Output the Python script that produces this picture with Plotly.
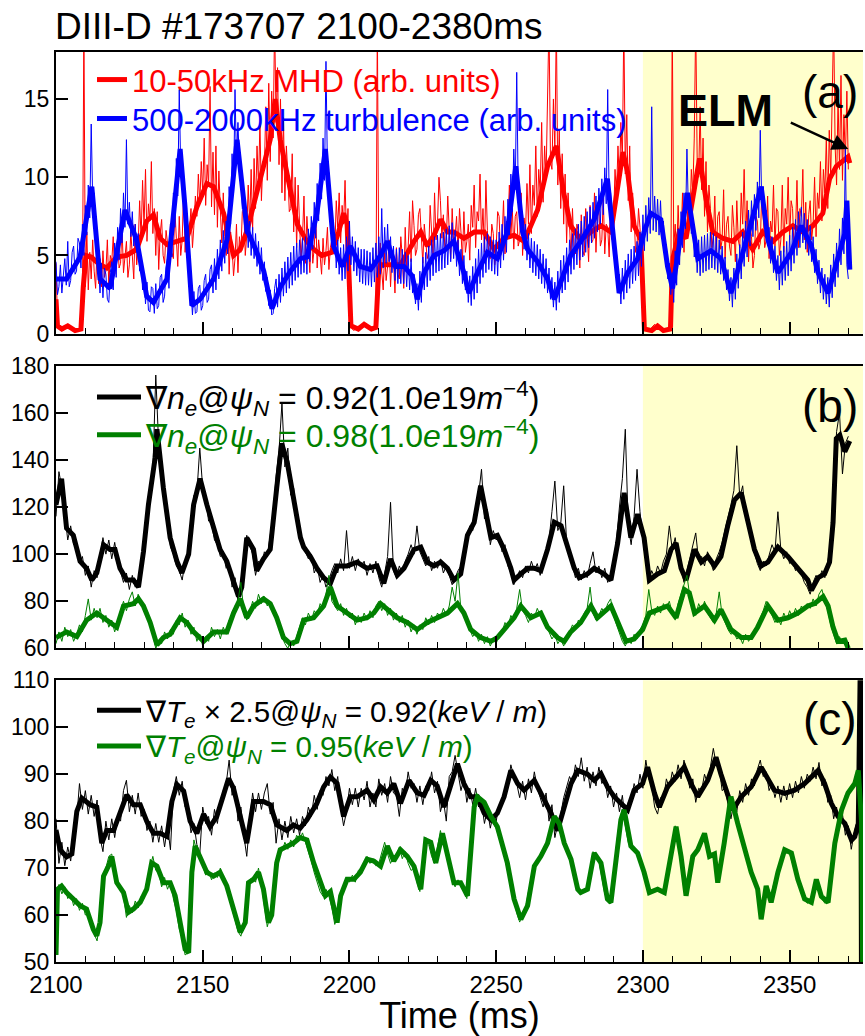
import numpy as np
import plotly.graph_objects as go

T0 = 2100.0
SHADE_START = 2300.0
X_RANGE = [2100, 2375]

# ---------------- panel (a) ----------------
# thin traces sampled every 0.5 ms from 2100
mhd_thin = [
4.5,0.8, 0.4,0.3, 0.3,0.2, 0.4,0.5, 0.6,0.5, 0.4,0.3, 0.2,0.2, 0.3,0.2, 0.3,0.4, 1.5,20,
3.0,6.5, 2.8,5.2, 3.5,6.0, 4.0,2.9, 5.5,3.2, 4.8,3.0, 5.3,3.6, 4.0,6.0, 3.1,5.0, 4.6,6.2,
3.8,5.4, 6.0,4.2, 4.5,6.8, 3.9,5.0, 5.9,3.6, 4.4,6.5, 5.1,3.5, 7.0,4.4, 5.6,8.5, 6.1,9.8,
6.8,10.5, 5.9,8.3, 7.2,11.0, 6.4,8.0, 5.0,7.8, 4.1,6.4, 7.3,5.0, 4.5,6.6, 5.8,3.9, 7.0,5.2,
4.8,8.0, 6.1,4.3, 7.5,5.0, 6.0,9.2, 5.2,7.1, 4.0,6.7, 8.0,5.5, 6.9,8.8, 7.5,10.2, 8.3,11.0,
9.0,12.5, 8.2,10.8, 9.5,15.8, 8.1,11.6, 7.6,12.0, 6.8,10.4, 7.9,5.8, 9.0,6.2, 5.0,7.6, 3.8,6.5,
5.6,3.7, 4.8,7.0, 3.9,6.2, 5.2,7.8, 8.0,5.0, 6.3,9.5, 7.0,10.5, 6.6,11.2, 8.0,12.0, 9.5,13.5,
8.5,11.0, 10.5,14.5, 9.8,16.0, 11.0,15.5, 12.5,20, 13.5,17.0, 10.8,15.0, 9.0,13.8, 8.5,12.0, 10.2,7.8,
8.0,11.5, 6.5,10.0, 5.5,9.5, 7.0,4.8, 6.2,8.8, 4.5,7.5, 5.8,3.9, 6.8,4.5, 5.5,7.8, 4.2,6.0,
5.0,3.8, 6.1,4.4, 5.3,6.8, 4.1,5.5, 6.0,7.2, 5.2,8.5, 6.8,9.0, 5.8,8.2, 7.0,9.8, 6.0,8.0,
2.0,0.6, 0.3,0.2, 0.3,0.4, 0.5,0.4, 0.5,0.6, 0.6,0.5, 0.4,0.3, 0.3,0.2, 0.3,0.3, 0.5,20,
3.5,5.8, 4.0,2.8, 5.2,3.4, 4.3,6.0, 3.0,5.0, 4.8,2.6, 5.5,3.8, 3.5,6.2, 4.9,2.9, 6.8,4.2,
5.5,7.8, 4.6,8.5, 6.9,5.0, 5.4,7.6, 8.0,5.8, 4.5,7.0, 6.0,4.8, 5.2,8.2, 6.5,4.9, 9.0,6.0,
7.0,10.0, 8.5,6.1, 7.6,5.5, 5.8,8.8, 6.6,4.8, 8.0,5.9, 6.2,7.5, 5.1,8.0, 6.5,4.6, 7.8,5.2,
5.9,7.0, 4.7,8.2, 6.8,9.5, 5.5,7.8, 7.2,10.2, 6.0,8.0, 5.2,9.8, 6.6,5.0, 4.8,7.0, 6.4,4.4,
5.5,7.8, 7.5,5.0, 6.0,8.5, 5.1,7.2, 7.0,9.5, 6.2,8.0, 5.4,7.5, 7.8,5.6, 6.0,9.0, 5.0,7.4,
6.5,9.6, 7.0,10.8, 6.4,9.5, 8.2,12.0, 7.5,10.5, 9.0,13.5, 8.4,12.0, 10.0,14.5, 20,11.0, 10.5,15.0,
11.8,20, 9.5,13.0, 8.0,11.5, 7.0,10.2, 5.8,9.0, 6.5,4.8, 8.0,5.5, 5.1,7.0, 6.5,4.2, 7.6,5.3,
5.0,8.0, 6.4,4.6, 8.2,5.8, 6.0,9.0, 5.2,7.5, 7.9,5.6, 6.0,8.8, 5.1,7.0, 6.8,4.9, 8.5,6.0,
7.2,10.5, 8.8,12.0, 9.5,13.5, 11.0,20, 10.2,14.0, 8.5,12.0, 6.5,9.0, 7.5,5.2, 5.6,8.0, 6.8,4.9,
1.5,0.5, 0.3,0.2, 0.2,0.3, 0.4,0.5, 0.6,0.5, 0.5,0.4, 0.3,0.2, 0.2,0.3, 0.3,0.3, 0.5,2.5,
20,5.5, 7.0,4.8, 8.2,5.6, 6.0,9.0, 5.2,7.8, 8.5,6.5, 7.0,10.5, 9.0,12.5, 20,11.0, 10.0,14.5,
9.2,12.5, 7.5,11.0, 6.5,9.5, 8.0,5.5, 6.2,8.8, 5.0,7.5, 7.8,5.4, 6.0,9.2, 4.8,7.0, 7.5,5.6,
5.0,8.2, 6.8,4.6, 8.5,6.0, 5.5,9.0, 7.0,10.5, 6.0,8.5, 4.6,7.0, 6.2,4.2, 5.0,7.5, 7.2,5.4,
5.8,9.0, 7.5,5.5, 6.0,8.8, 4.8,7.2, 6.5,9.5, 5.6,8.0, 7.8,5.0, 6.0,9.5, 5.2,8.0, 7.0,10.0,
6.0,8.5, 8.0,5.4, 6.5,9.8, 5.5,8.0, 7.5,10.5, 6.0,8.4, 5.2,7.6, 8.5,6.0, 7.0,10.0, 6.2,9.0,
8.0,11.0, 7.2,10.5, 9.0,12.5, 8.0,13.0, 10.0,14.5, 20,12.0, 9.5,15.0, 10.5,16.5, 9.8,14.0, 11.0,15.5,
10.5]

turb_thin = [
4.6,2.5, 3.0,4.4, 2.6,4.0, 4.8,3.1, 5.9,3.0, 3.4,5.2, 5.6,3.8, 4.0,6.1, 5.8,4.2, 7.0,5.0,
8.2,6.3, 9.5,7.4, 13.4,8.6, 9.0,6.5, 6.0,4.2, 2.6,4.5, 2.3,4.2, 3.8,2.2, 2.0,3.9, 4.6,2.8,
5.8,3.6, 6.8,4.7, 8.0,5.8, 9.0,6.8, 12.4,7.0, 8.4,6.2, 7.8,5.6, 7.0,5.2, 6.4,4.0, 5.0,2.8,
3.8,1.9, 3.3,1.5, 1.4,3.0, 2.9,1.3, 3.2,1.6, 1.8,3.6, 3.8,2.0, 2.4,4.2, 4.8,2.9, 7.0,4.9,
9.0,6.8, 11.2,8.8, 15.6,10.5, 11.0,8.5, 9.2,6.8, 5.6,3.4, 2.8,1.2, 2.7,1.3, 1.4,2.9, 3.1,1.5,
1.8,3.4, 3.8,2.0, 2.2,4.1, 4.4,2.6, 4.8,2.8, 5.4,3.5, 6.0,4.0, 6.6,4.5, 7.2,5.1, 9.4,7.0,
11.5,9.0, 15.6,11.0, 13.5,10.8, 10.2,8.0, 8.6,6.4, 7.6,5.5, 7.2,5.0, 6.8,4.8, 6.4,4.3, 5.9,3.8,
5.5,3.4, 4.6,2.7, 3.6,1.8, 2.8,1.2, 1.3,2.9, 3.5,1.7, 3.8,2.0, 4.2,2.4, 4.6,2.6, 4.9,2.9,
5.2,3.1, 5.6,3.4, 5.8,3.6, 6.0,3.8, 6.1,3.9, 6.2,3.8, 6.7,4.6, 7.5,5.4, 8.4,6.1, 9.6,7.2,
10.9,8.6, 12.5,9.8, 17.4,10.4, 10.3,7.8, 7.7,5.4, 6.4,4.2, 6.0,3.8, 5.5,3.4, 5.7,3.5, 6.2,4.0,
7.2,4.4, 6.2,4.0, 5.9,3.7, 5.5,3.3, 5.4,3.2, 5.4,3.1, 5.3,3.1, 5.2,3.0, 5.5,3.3, 5.8,3.6,
6.2,3.8, 8.0,4.2, 6.8,4.5, 7.0,4.6, 6.2,3.9, 5.6,3.4, 5.4,3.2, 5.5,3.2, 5.4,3.2, 5.2,3.0,
5.0,2.8, 4.8,2.6, 3.8,1.9, 3.2,1.5, 4.0,2.0, 4.9,2.8, 5.2,3.0, 5.6,3.4, 6.0,3.7, 6.2,3.9,
6.3,4.0, 6.4,4.1, 6.5,4.2, 6.7,4.4, 6.9,4.6, 7.1,4.8, 6.6,4.3, 6.0,3.7, 5.4,3.2, 5.0,2.8,
4.0,2.0, 3.7,1.8, 4.3,2.2, 4.8,2.6, 5.4,3.2, 5.8,3.6, 6.2,3.9, 6.4,4.1, 6.2,4.0, 6.0,3.8,
6.0,3.7, 6.5,4.2, 7.0,4.7, 7.5,5.2, 8.6,6.3, 10.2,7.8, 11.8,9.2, 16.7,9.3, 9.2,6.9, 7.6,5.4,
7.0,4.7, 6.4,4.2, 6.1,3.9, 5.9,3.7, 5.7,3.5, 5.4,3.2, 5.1,2.9, 4.8,2.6, 4.2,2.2, 3.6,1.7,
3.3,1.5, 4.0,2.0, 4.7,2.6, 5.0,2.8, 5.5,3.3, 6.0,3.8, 6.4,4.1, 6.7,4.4, 7.0,4.7, 7.2,4.9,
7.5,5.2, 7.8,5.5, 8.1,5.8, 8.4,6.1, 8.8,6.5, 9.3,7.0, 9.9,7.6, 10.6,8.3, 15.6,8.7, 9.0,6.7,
6.6,4.4, 5.1,3.0, 3.8,1.9, 4.2,2.2, 4.7,2.6, 5.1,2.9, 5.4,3.2, 5.6,3.4, 5.9,3.7, 6.5,4.3,
7.6,5.3, 8.2,5.9, 8.7,6.4, 14.5,6.6, 8.8,6.5, 8.6,6.3, 8.5,6.2, 7.2,4.9, 5.7,3.5, 4.5,2.5,
3.9,2.0, 5.3,3.1, 6.7,4.4, 7.8,5.5, 9.0,6.7, 11.8,7.9, 8.7,6.4, 7.2,4.9, 6.2,3.9, 6.0,3.7,
6.2,3.9, 6.3,4.0, 6.4,4.1, 6.5,4.2, 6.4,4.1, 6.2,3.9, 6.0,3.8, 5.6,3.4, 4.9,2.8, 4.1,2.1,
3.6,1.7, 4.2,2.2, 5.1,2.9, 5.7,3.5, 6.5,4.3, 7.2,4.9, 7.9,5.6, 8.5,6.2, 8.9,6.6, 9.7,7.4,
13.0,8.2, 9.4,7.1, 7.9,5.6, 6.8,4.5, 6.2,3.9, 5.6,3.4, 5.0,2.8, 5.3,3.1, 5.6,3.4, 5.9,3.7,
6.3,4.0, 6.8,4.5, 7.3,5.0, 7.8,5.5, 8.1,5.8, 7.7,5.4, 7.3,5.0, 6.9,4.6, 6.2,3.9, 5.4,3.2,
4.7,2.6, 4.2,2.2, 3.8,1.9, 3.6,1.7, 4.4,2.3, 5.1,3.0, 5.8,3.6, 6.7,4.4, 7.4,5.1, 11.8,4.4,
3.5]

mhd_smooth_t = [2100.0, 2100.5, 2102.0, 2104.0, 2106.5, 2108.5, 2109.3, 2110.2, 2112.0, 2115.0,
    2117.3, 2120.7, 2124.1, 2127.5, 2130.9, 2133.2, 2135.5, 2137.8, 2141.2, 2144.6,
    2148.0, 2151.4, 2153.7, 2157.1, 2160.5, 2162.8, 2165.1, 2167.3, 2170.7, 2173.0,
    2174.7, 2176.4, 2178.6, 2180.5, 2182.2, 2185.5, 2187.8, 2190.6, 2194.0, 2196.3,
    2198.0, 2199.2, 2200.0, 2200.5, 2203.0, 2205.0, 2207.5, 2209.0, 2209.9, 2210.6,
    2214.0, 2217.4, 2222.0, 2224.3, 2226.5, 2228.8, 2231.1, 2233.4, 2235.6, 2239.0,
    2242.5, 2245.9, 2249.3, 2252.7, 2256.1, 2259.5, 2264.1, 2267.5, 2270.5, 2273.0,
    2275.4, 2278.8, 2282.3, 2285.7, 2289.1, 2292.0, 2293.2, 2294.8, 2297.0, 2299.3,
    2300.0, 2300.5, 2303.0, 2305.0, 2307.0, 2309.4, 2309.8, 2310.3, 2312.4, 2314.7,
    2318.1, 2319.3, 2321.5, 2323.8, 2327.2, 2330.6, 2334.0, 2337.4, 2340.8, 2344.3,
    2347.7, 2351.1, 2354.5, 2357.9, 2361.3, 2363.6, 2365.9, 2368.2, 2369.9, 2370.5]
mhd_smooth_v = [2.2, 0.5, 0.3, 0.5, 0.2, 0.3, 3.0, 5.0, 4.9, 4.4,
    4.2, 4.9, 5.0, 5.4, 7.2, 7.6, 6.1, 5.7, 5.9, 6.1,
    8.1, 9.6, 9.4, 7.7, 5.0, 5.4, 6.6, 8.1, 10.7, 12.4,
    15.0, 12.4, 10.4, 8.8, 7.0, 5.9, 5.4, 5.0, 5.2, 6.5,
    7.7, 7.0, 3.0, 0.5, 0.3, 0.6, 0.3, 0.4, 3.8, 4.4,
    4.4, 4.4, 5.9, 6.5, 5.6, 6.3, 7.3, 6.5, 6.5, 6.1,
    6.5, 6.5, 5.4, 6.1, 6.3, 5.9, 7.9, 10.7, 12.0, 9.0,
    6.9, 6.0, 6.5, 6.9, 6.5, 9.9, 11.6, 10.3, 6.9, 6.0,
    2.0, 0.3, 0.2, 0.5, 0.2, 0.3, 3.0, 4.9, 6.5, 6.1,
    9.9, 11.2, 8.6, 6.5, 6.1, 5.9, 6.5, 5.4, 6.5, 5.9,
    6.5, 6.9, 6.5, 6.9, 7.7, 9.9, 10.7, 11.1, 11.3, 10.9]

turb_smooth_t = [2100.0, 2103.6, 2108.2, 2112.2, 2115.0, 2118.4, 2123.5, 2127.5, 2130.9, 2133.2,
    2137.8, 2142.3, 2144.0, 2146.3, 2149.1, 2153.7, 2158.3, 2161.7, 2165.1, 2168.0,
    2170.8, 2173.6, 2176.5, 2179.9, 2183.3, 2185.5, 2188.9, 2191.8, 2194.6, 2197.5,
    2200.3, 2203.7, 2207.2, 2210.6, 2212.9, 2215.7, 2218.6, 2221.4, 2223.1, 2225.4,
    2228.8, 2232.2, 2235.6, 2239.0, 2240.7, 2243.6, 2247.0, 2250.4, 2253.8, 2256.7,
    2259.0, 2260.7, 2264.1, 2267.5, 2269.8, 2273.2, 2275.4, 2278.8, 2283.4, 2287.9,
    2290.2, 2291.9, 2294.8, 2298.2, 2300.4, 2302.7, 2306.1, 2308.4, 2310.1, 2311.8,
    2315.2, 2318.7, 2323.2, 2326.6, 2330.0, 2333.5, 2338.0, 2340.3, 2342.6, 2346.0,
    2350.6, 2354.0, 2357.4, 2359.7, 2363.1, 2366.5, 2368.8, 2369.5, 2370.5]
turb_smooth_v = [3.5, 3.5, 4.9, 9.4, 3.5, 2.9, 7.9, 6.0, 2.4, 2.0,
    3.5, 11.8, 8.0, 1.8, 2.2, 3.5, 6.0, 12.4, 6.6, 5.4,
    4.0, 1.6, 3.0, 4.0, 4.8, 4.9, 7.7, 11.8, 5.6, 4.3,
    5.6, 4.3, 4.1, 5.0, 5.9, 4.3, 4.3, 3.7, 2.2, 3.9,
    5.0, 5.3, 5.9, 3.9, 2.6, 3.9, 5.2, 4.8, 6.5, 10.7,
    6.5, 5.4, 4.6, 3.5, 2.2, 3.9, 5.0, 5.9, 7.3, 9.9,
    5.6, 2.6, 3.9, 4.8, 6.5, 7.7, 7.3, 4.3, 2.9, 5.0,
    9.0, 4.8, 5.3, 4.8, 2.6, 4.8, 7.7, 9.4, 6.0, 3.9,
    5.2, 6.9, 5.6, 3.9, 2.6, 4.9, 6.4, 8.5, 4.1]

# ---------------- panel (b) ----------------
# thin traces sampled every 1 ms from 2100
ne92_thin = [116,135,128,118,106,112,104,103,96,99, 91,95,86,93,90,99,107,100,106,98,
    105,97,92,88,92,85,91,86,88,92, 108,115,127,135,176,146,137,120,113,103,
    100,95,93,89,97,98,110,125,126,145, 128,124,114,113,106,104,99,100,94,96,
    86,90,80,88,100,108,104,100,91,97, 95,101,99,108,117,133,144,164,137,145,
    125,128,115,108,104,101,98,100,92,95, 88,91,86,89,93,96,92,98,93,110,
    94,99,93,98,95,97,91,96,92,97, 90,86,92,99,122,93,90,95,92,97,
    100,104,100,112,101,98,95,99,93,97, 94,98,92,95,91,87,90,93,95,102,
    106,112,110,118,125,136,115,119,104,110, 106,108,101,104,95,92,87,90,93,90,
    95,92,97,93,96,91,98,101,106,118, 131,110,113,129,105,100,95,90,94,89,
    93,90,96,101,92,95,90,94,88,91, 97,106,120,132,153,112,104,116,136,118,
    106,98,88,93,90,95,92,97,100,112, 102,107,98,94,88,93,98,104,109,97,
    99,95,101,97,93,98,101,105,110,116, 121,127,146,124,129,116,112,105,100,96,
    93,97,95,100,104,101,118,102,98,101, 96,97,93,95,91,88,86,83,88,91,
    89,93,90,97,104,128,152,160,134,147, 150]
ne98_thin = [62,67,63,69,65,68,63,66,70,67, 74,81,72,77,73,77,71,74,69,72,
    67,71,75,80,76,81,84,78,83,79, 76,73,70,66,60,63,62,67,64,68,
    66,72,70,75,69,72,66,69,63,66, 61,65,63,69,65,68,64,69,66,72,
    74,78,80,88,76,72,75,80,77,83, 79,82,78,80,75,74,68,65,62,60,
    63,61,65,69,73,70,75,72,76,74, 79,77,83,91,80,78,76,79,74,77,
    73,75,70,74,71,75,72,76,73,78, 80,76,79,74,77,72,75,71,74,69,
    72,67,70,66,70,68,73,70,74,71, 75,73,77,74,78,86,80,92,76,74,
    71,68,65,67,63,66,62,65,61,64, 62,66,67,71,69,74,72,77,85,76,
    74,71,75,73,77,74,72,69,67,64, 66,62,64,61,65,67,70,68,72,70,
    75,77,86,75,72,74,77,75,79,81, 74,70,66,63,61,64,62,66,64,68,
    70,74,85,76,74,78,75,79,77,80, 75,72,79,83,86,91,82,76,74,79,
    76,80,75,73,71,75,84,74,71,68, 66,67,64,65,62,66,63,65,68,70,
    73,76,80,77,74,71,73,70,75,72, 76,73,77,74,78,76,79,77,81,78,
    83,85,80,76,70,66,62,65,62,64, 60]

ne92_smooth_t = [2100.0, 2101.9, 2103.6, 2105.9, 2108.2, 2110.4, 2112.2, 2113.9, 2116.2, 2118.4,
    2120.1, 2121.8, 2124.1, 2126.4, 2128.1, 2129.8, 2131.5, 2133.8, 2134.4, 2136.6,
    2138.9, 2141.2, 2142.9, 2145.2, 2146.9, 2149.1, 2151.4, 2153.7, 2155.9, 2158.2,
    2160.5, 2162.2, 2163.3, 2165.0, 2167.3, 2168.4, 2170.7, 2173.0, 2175.2, 2176.9,
    2178.8, 2181.0, 2183.3, 2184.4, 2186.7, 2188.9, 2191.2, 2193.5, 2195.8, 2199.2,
    2202.6, 2206.0, 2209.4, 2211.7, 2214.0, 2216.3, 2218.6, 2222.0, 2224.3, 2226.5,
    2228.8, 2231.1, 2233.4, 2235.6, 2237.9, 2240.2, 2242.5, 2244.7, 2246.5, 2248.2,
    2250.4, 2252.7, 2255.0, 2256.1, 2258.4, 2260.7, 2263.0, 2265.2, 2267.5, 2269.8,
    2272.1, 2274.3, 2276.6, 2278.3, 2281.1, 2283.4, 2286.8, 2289.1, 2291.4, 2293.6,
    2295.9, 2298.2, 2300.4, 2302.2, 2305.0, 2307.3, 2309.6, 2311.3, 2313.0, 2314.7,
    2317.6, 2319.9, 2322.1, 2324.4, 2326.6, 2328.9, 2331.2, 2333.5, 2335.7, 2338.0,
    2340.3, 2342.6, 2346.0, 2349.4, 2352.8, 2356.2, 2357.4, 2359.7, 2361.9, 2363.6,
    2364.8, 2365.9, 2367.1, 2368.8, 2370.5]
ne92_smooth_v = [121, 132, 111, 108, 97, 94, 89, 92, 104, 102,
    102, 94, 89, 89, 86, 101, 121, 141, 153, 128,
    107, 97, 92, 100, 121, 132, 121, 111, 102, 97,
    89, 82, 86, 107, 102, 93, 98, 102, 128, 147,
    139, 124, 107, 103, 99, 94, 90, 87.6, 95, 95,
    96.6, 94, 95, 87.6, 98, 91, 94, 102, 103, 96.6,
    95, 96.6, 94, 89, 91.6, 108, 113.5, 129, 117.5, 107,
    108, 102, 94, 89, 91.6, 94, 94, 93, 102, 113.5,
    112, 104, 94, 90, 91.6, 94, 91.6, 89, 104.7, 126,
    107, 117, 107, 89, 91.6, 93, 102, 104.7, 94, 89,
    102, 96.6, 99, 95, 99, 112, 123, 126, 115, 102,
    95, 96.6, 103, 99, 94, 89, 84.6, 90, 91.6, 96.6,
    113.5, 149, 150.5, 143.5, 148]

ne98_smooth_t = [2100.0, 2103.6, 2107.1, 2110.4, 2113.9, 2116.2, 2118.4, 2120.7, 2123.0, 2126.4,
    2128.1, 2129.8, 2132.1, 2134.4, 2136.6, 2138.9, 2142.3, 2144.6, 2146.9, 2150.3,
    2153.7, 2158.2, 2160.5, 2162.8, 2165.0, 2167.3, 2170.7, 2173.0, 2175.2, 2177.5,
    2179.8, 2182.1, 2184.4, 2187.8, 2191.2, 2193.5, 2195.8, 2199.2, 2202.6, 2206.0,
    2208.3, 2210.6, 2212.9, 2216.3, 2219.7, 2223.1, 2226.5, 2229.9, 2233.4, 2236.8,
    2239.0, 2241.3, 2244.7, 2248.2, 2250.4, 2252.7, 2256.1, 2258.4, 2261.8, 2265.2,
    2267.5, 2270.9, 2273.2, 2275.4, 2278.8, 2282.3, 2284.5, 2289.1, 2291.4, 2294.2,
    2297.0, 2299.9, 2302.2, 2305.0, 2308.4, 2311.3, 2314.1, 2315.8, 2317.6, 2321.0,
    2324.4, 2326.6, 2330.0, 2333.5, 2336.9, 2339.1, 2342.6, 2346.0, 2349.4, 2352.8,
    2356.2, 2358.5, 2361.4, 2363.1, 2364.8, 2366.5, 2368.8, 2370.0]
ne98_smooth_v = [64.6, 67, 65, 72, 75, 73, 71, 69, 78, 79,
    81, 78, 71, 61.5, 64.6, 66, 73, 71, 67, 63,
    67, 67, 75, 81, 73, 78, 81, 79, 73, 64.6,
    62, 63, 72, 73, 78, 86, 78, 75, 72, 73,
    75, 79, 76.5, 73, 71, 68, 71, 73, 75, 79,
    75, 68, 64.6, 63, 64.6, 68, 73, 78, 73, 75,
    69, 64.6, 63, 67, 71, 78, 73, 78, 71, 63,
    64, 68, 75, 76.5, 78, 73, 85, 83.6, 75, 78,
    72, 76.5, 68, 64.6, 64.6, 69, 78, 72, 73, 75,
    78, 79, 82, 78, 69, 63, 63.5, 60]

# ---------------- panel (c) ----------------
te92_thin = [80.5,71,75.5,70.5,74.5,71.5,77,80,88,82.5, 86.5,81.5,85.5,81,84.5,76.5,73.5,80,76,80.5,
    76.5,81,80,86.5,88.7,82,85.5,81.5,86,81, 82.5,78,80,75.5,79.5,75.5,79,74.5,79,73.9,
    86.5,89.5,85.5,88.5,83,82.5,77.5,79.5,75,73, 83,79.5,81,77,82.5,79.5,84,86.5,88,93,
    85.5,87.5,80,83,77,72.5,80,86,82,86, 82.5,86,88,81.5,84,75.3,80.5,76,80,76.5,
    81,77.5,80.5,77,81,79,83,81,85.5,82.5, 86.5,85.5,89.5,87.5,91,86.5,89.5,83,79,82,
    87,83.5,87,83,87,84.5,88.5,83,86,83, 89,85.5,88,84,89.5,86,85.5,81,87,85.5,
    90.5,87,88,84,87.5,83.5,87.5,86.5,90.5,86, 88.5,82,84.5,80,89.5,90.5,94,90,86.5,89,
    84,87,83.5,87,83,84,79.5,82.5,78.5,81.5, 80,83.5,84,86.5,87.5,92,89.5,88,85,88.5,
    84.5,89,86,90.5,87,85,83,86,80,83.5, 76.5,79.5,81.5,85,87,89.5,88,92,89.5,93.5,
    88.5,91.5,87,90.5,87.5,91.5,88,89,85,87.5, 83,86,82,85.5,80,84,84.5,88,86,90,
    87,93,89,87.5,83,81.5,85,84.5,89,87, 90.5,88.5,92,89,93,90,87,89,84,87,
    86.5,90,88,91.5,95.5,92,91.5,86.5,87,83.5, 80.5,84,82,86.5,84,88,85.5,89,87.5,91,
    93,89.5,90.5,86.5,88,85,87.5,84,87.5,84.5, 88,85,88.5,86,89.5,87,90,88.5,91.5,89,
    92.5,87.5,89,84,85.5,80.5,83,78.5,81.5,77, 79,74,77.5,80,76]
te95_thin = [53,66.5,64.5,66,63.5,64.5,62,63.5,61,62.5, 60,60.5,57.5,56,54.5,59,68,70,72.5,73,
    68,66,66,64,59.5,62,60.5,63,61.5,64, 63.5,67.5,70,72.5,69.5,69,66,68,65.5,67,
    63.5,61,57,55,51.5,52,66,76,73.5,72, 70.5,68.5,69.5,67.5,69,68,70,67,66,63.5,
    61.5,59,56.5,55.5,58,64,67.5,68,67,70, 66.5,62,57.5,60,66,71,74,73.5,75.5,74,
    76,74.5,77,76,77.5,75.5,74,71.5,69,67, 65,64,65.5,64,61.5,58,60,64,66,68,
    67,68.5,67,69.5,70,71,72.5,71,72,70.5, 71,73,75.5,73,71,72.5,73,74.5,72,73.5,
    71,69.5,70,67,65,72,76.5,75,72.5,71, 75,78,75,73.5,70,67.5,66,67.5,66,65,
    63.5,70,82,85.5,84.5,84,83,81.5,81,79.5, 78.5,76.5,74,72,69,66,63,60.5,58.5,60,
    61.5,65,68,70.5,71,72.5,73,75,77.5,80.5, 81,79.5,77,75,74,72,70,67,65,64.5,
    65,66,70,73.5,72,71.5,68,64.5,63,62.5, 68,75,80,82.5,79,75.5,74,73.5,73,71.5,
    69.5,67,65,65,65.5,65.5,65,64.5,68,71, 75,79,75.5,72,65,66,70,72.5,73.5,74.5,
    76,77,74,72.5,73,68,70,74.5,79,82.5, 85,82,80,77.5,75,73,70.5,69,67,65.5,
    59.5,63,66,63,65.5,67.5,69,72,74,73.5, 73,71,68.5,66.5,64.5,63.5,62.5,63,65,67.5,
    65.5,63.5,62.5,63,69,74,78,81,83,85.5, 86.5,87.5,88,90.5,85]

te92_smooth_t = [2100.0, 2101.4, 2103.6, 2105.4, 2107.1, 2108.8, 2111.6, 2113.9, 2115.6, 2117.3,
    2119.6, 2121.8, 2124.1, 2126.4, 2128.7, 2130.9, 2133.2, 2135.5, 2137.8, 2139.5,
    2141.2, 2143.5, 2145.7, 2148.0, 2150.3, 2152.5, 2154.8, 2157.1, 2158.8, 2160.5,
    2162.8, 2165.0, 2167.3, 2170.7, 2173.0, 2175.2, 2178.6, 2180.9, 2183.2, 2185.5,
    2188.9, 2191.2, 2193.5, 2195.8, 2198.0, 2200.3, 2202.6, 2206.0, 2208.3, 2210.6,
    2212.9, 2215.1, 2217.4, 2220.3, 2223.1, 2225.4, 2227.7, 2229.9, 2232.2, 2234.5,
    2236.8, 2239.0, 2241.3, 2243.6, 2245.9, 2248.2, 2250.4, 2252.7, 2255.0, 2257.3,
    2259.5, 2263.0, 2266.4, 2268.7, 2270.9, 2273.2, 2275.5, 2277.8, 2281.1, 2283.4,
    2285.7, 2287.9, 2290.2, 2292.5, 2294.8, 2297.0, 2299.9, 2301.6, 2303.9, 2305.6,
    2308.4, 2311.3, 2314.1, 2316.4, 2318.7, 2322.1, 2324.9, 2326.6, 2328.9, 2330.6,
    2333.5, 2336.9, 2340.3, 2342.6, 2344.8, 2348.3, 2351.7, 2355.1, 2359.7, 2361.9,
    2364.2, 2366.5, 2368.8, 2371.1, 2372.2, 2373.4, 2374.2, 2374.5]
te92_smooth_v = [78.1, 73.9, 72.4, 73, 82.1, 84.9, 83.5, 83, 75.3, 78,
    78, 82, 85.6, 83.5, 83.5, 80, 77.4, 77.4, 76.7, 84.2,
    87.8, 86.4, 80, 77.4, 81.5, 78.8, 81, 85.6, 89.1, 87,
    81.5, 75.3, 84.2, 84.2, 83.5, 79.2, 78, 79.2, 78.5, 80.3,
    83.8, 87.3, 89.4, 88, 81, 85.2, 85.2, 86.6, 84.5, 87.3,
    86, 88, 83.8, 88.7, 86, 85.5, 88.7, 87.5, 83, 88,
    92.2, 88, 85.2, 85.2, 81.7, 80.3, 81.7, 85.2, 90.8, 88,
    86.6, 88.7, 84.5, 81.7, 78, 83, 88, 90.8, 90, 88.7,
    90.1, 87.3, 85.2, 83.8, 82.4, 86.6, 88, 91.5, 86, 83,
    87.3, 89.4, 91.5, 88, 85.2, 88.7, 93.6, 90, 85.2, 82.4,
    85.2, 87.3, 91.5, 89, 86.6, 85.9, 86.6, 88, 90.8, 88,
    83.8, 81, 79.5, 76, 76.7, 79.5, 120, 40]

te95_smooth_t = [2100.0, 2100.5, 2101.9, 2103.6, 2105.9, 2108.2, 2110.4, 2112.7, 2113.9, 2115.0,
    2116.2, 2118.4, 2119.0, 2120.7, 2123.0, 2124.7, 2126.4, 2128.7, 2130.9, 2132.6,
    2134.4, 2136.6, 2138.9, 2140.6, 2142.3, 2144.0, 2145.2, 2146.3, 2147.4, 2149.1,
    2151.4, 2153.7, 2155.9, 2158.2, 2160.5, 2162.8, 2164.5, 2165.6, 2167.3, 2169.0,
    2170.7, 2172.4, 2173.5, 2175.2, 2176.4, 2178.6, 2180.9, 2183.2, 2185.5, 2187.8,
    2190.0, 2191.8, 2193.5, 2194.6, 2195.8, 2197.0, 2199.2, 2201.5, 2203.7, 2206.0,
    2208.3, 2210.6, 2212.9, 2215.1, 2217.4, 2219.7, 2222.0, 2224.3, 2226.0, 2227.7,
    2229.4, 2231.7, 2233.4, 2235.6, 2237.9, 2240.2, 2242.5, 2243.6, 2245.9, 2248.2,
    2250.4, 2253.8, 2256.1, 2258.4, 2260.7, 2263.0, 2265.2, 2267.5, 2269.8, 2271.5,
    2273.2, 2275.5, 2277.8, 2278.8, 2281.1, 2283.4, 2285.7, 2287.9, 2289.1, 2290.8,
    2292.5, 2293.6, 2295.9, 2298.2, 2300.4, 2302.2, 2305.0, 2307.3, 2309.6, 2311.3,
    2313.0, 2314.7, 2317.0, 2318.7, 2321.0, 2322.7, 2324.4, 2325.5, 2327.7, 2330.0,
    2332.3, 2334.6, 2336.9, 2339.1, 2340.3, 2342.0, 2343.7, 2346.0, 2348.3, 2350.6,
    2352.8, 2355.1, 2357.4, 2359.1, 2360.8, 2363.1, 2365.4, 2367.7, 2369.9, 2372.2,
    2373.4, 2374.5, 2375.0]
te95_smooth_v = [51.5, 65.5, 66.2, 64.8, 63.4, 62, 61.3, 57, 55.6, 58.4,
    68.3, 71.1, 72.5, 66.9, 64.8, 60.6, 61.3, 62.7, 65.5, 71.1,
    70.4, 66.9, 66.9, 64.1, 58.4, 52.7, 52, 69.1, 74.7, 72.5,
    69.1, 68.3, 69.1, 66.2, 61.3, 56.3, 58.4, 66.9, 67.6, 69.1,
    65.5, 58.4, 60, 71.1, 73.9, 74.7, 75.3, 76.5, 76, 71.1,
    66.9, 64.1, 65, 61.3, 58.4, 64.1, 67.6, 67.6, 69.1, 71.9,
    71.5, 70.4, 74.7, 71.5, 73.9, 72.5, 70.4, 65.5, 76, 75.5,
    71.1, 77.4, 73, 66.9, 66.9, 64.1, 83, 85.2, 84, 81,
    78.8, 71.1, 63.4, 59.1, 62, 70.4, 72.5, 75.3, 81, 79.5,
    75.3, 71.9, 65.5, 64.8, 65.5, 73.2, 71.1, 63.4, 62.7, 72.5,
    80.3, 82.4, 74.7, 73.2, 69.1, 64.8, 65.5, 64.8, 72.5, 78.8,
    72.5, 64.1, 72.5, 73.9, 77.4, 72.5, 73, 66.9, 75.3, 85.2,
    79.5, 73.9, 69.1, 65.5, 59.1, 66.2, 62.7, 69.1, 73.9, 73.2,
    67.6, 63.4, 62.7, 67.6, 64, 62.7, 75.3, 82.4, 86, 88,
    90.8, 80, 40]

# ---------------- texts ----------------
title_text = "DIII-D #173707 2100-2380ms"
name_mhd = "10-50kHz MHD (arb. units)"
name_turb = "500-2000kHz turbulence (arb. units)"
name_ne92 = "∇<i>n</i><sub><i>e</i></sub>@<i>ψ</i><sub><i>N</i></sub> = 0.92(1.0<i>e</i>19<i>m</i><sup>−4</sup>)"
name_ne98 = "∇<i>n</i><sub><i>e</i></sub>@<i>ψ</i><sub><i>N</i></sub> = 0.98(1.0<i>e</i>19<i>m</i><sup>−4</sup>)"
name_te92 = "∇<i>T</i><sub><i>e</i></sub> × 2.5@<i>ψ</i><sub><i>N</i></sub> = 0.92(<i>keV</i> / <i>m</i>)"
name_te95 = "∇<i>T</i><sub><i>e</i></sub>@<i>ψ</i><sub><i>N</i></sub> = 0.95(<i>keV</i> / <i>m</i>)"

RED, BLUE, BLACK, GREEN = "#ff0000", "#0000ff", "#000000", "#008000"
FONT = "Liberation Sans, Arial, Helvetica, sans-serif"


def grid(values, dt):
    return T0 + dt * np.arange(len(values))


fig = go.Figure()


def thin(x, y, color, xa, ya):
    fig.add_trace(go.Scatter(x=x, y=y, mode="lines", line=dict(color=color, width=1),
                             xaxis=xa, yaxis=ya, showlegend=False, hoverinfo="skip"))


def thick(x, y, color, xa, ya, name, leg):
    fig.add_trace(go.Scatter(x=x, y=y, mode="lines", line=dict(color=color, width=5),
                             xaxis=xa, yaxis=ya, name=name, legend=leg, showlegend=True))


# panel a
thin(grid(mhd_thin, 0.5), mhd_thin, RED, "x", "y")
thick(mhd_smooth_t, mhd_smooth_v, RED, "x", "y", name_mhd, "legend")
thin(grid(turb_thin, 0.5), turb_thin, BLUE, "x", "y")
thick(turb_smooth_t, turb_smooth_v, BLUE, "x", "y", name_turb, "legend2")
# panel b
thin(grid(ne92_thin, 1.0), ne92_thin, BLACK, "x2", "y2")
thick(ne92_smooth_t, ne92_smooth_v, BLACK, "x2", "y2", name_ne92, "legend3")
thin(grid(ne98_thin, 1.0), ne98_thin, GREEN, "x2", "y2")
thick(ne98_smooth_t, ne98_smooth_v, GREEN, "x2", "y2", name_ne98, "legend4")
# panel c
thin(grid(te95_thin, 1.0), te95_thin, GREEN, "x3", "y3")
thin(grid(te92_thin, 1.0), te92_thin, BLACK, "x3", "y3")
thick(te92_smooth_t, te92_smooth_v, BLACK, "x3", "y3", name_te92, "legend5")
thick(te95_smooth_t, te95_smooth_v, GREEN, "x3", "y3", name_te95, "legend6")

xbase = dict(range=X_RANGE, tick0=2100, dtick=50, ticks="inside", ticklen=12, tickwidth=1.5,
             tickcolor="black", showline=True, linecolor="black", linewidth=2, mirror=True,
             showgrid=False, zeroline=False,
             minor=dict(dtick=10, ticks="inside", ticklen=6, tickwidth=1.2, tickcolor="black"),
             tickfont=dict(size=24, family=FONT, color="black"))
ybase = dict(ticks="inside", ticklen=12, tickwidth=1.5, tickcolor="black", showline=True,
             linecolor="black", linewidth=2, showgrid=False, zeroline=False,
             tickfont=dict(size=23, family=FONT, color="black"))


def leg(y, color, size, iw):
    return dict(bgcolor="rgba(0,0,0,0)", borderwidth=0, xanchor="left", yanchor="top",
                x=0.0446, y=y, font=dict(size=size, family=FONT, color=color), itemwidth=iw)


fig.update_layout(
    width=865, height=1036,
    margin=dict(l=56, r=2, t=52, b=70),
    paper_bgcolor="white", plot_bgcolor="white",
    font=dict(family=FONT, color="black"),
    xaxis=dict(**xbase, anchor="y", showticklabels=False),
    xaxis2=dict(**xbase, anchor="y2", showticklabels=False),
    xaxis3=dict(**xbase, anchor="y3", showticklabels=True,
                title=dict(text="Time (ms)", font=dict(size=36, family=FONT), standoff=11)),
    yaxis=dict(**ybase, domain=[0.6904, 1.0], range=[0, 18], tickvals=[0, 5, 10, 15], anchor="x"),
    yaxis2=dict(**ybase, domain=[0.3446, 0.6554], range=[60, 180], dtick=20, anchor="x2"),
    yaxis3=dict(**ybase, domain=[0.0, 0.3096], range=[50, 110], dtick=10, anchor="x3"),
    legend=leg(0.9990, RED, 31, 30),
    legend2=leg(0.9562, BLUE, 31, 30),
    legend3=leg(0.6510, BLACK, 32, 44),
    legend4=leg(0.6094, GREEN, 32, 44),
    legend5=leg(0.3050, BLACK, 29.5, 44),
    legend6=leg(0.2656, GREEN, 29.5, 44),
)

for xr, yr in (("x", "y"), ("x2", "y2"), ("x3", "y3")):
    fig.add_shape(type="rect", xref=xr, yref=f"{yr} domain", x0=SHADE_START, x1=X_RANGE[1],
                  y0=0, y1=1, fillcolor="#ffffcc", line=dict(width=0), layer="below")

fig.add_annotation(text=title_text, xref="paper", yref="paper", x=-0.004, y=1.0284,
                   xanchor="left", yanchor="middle", showarrow=False,
                   font=dict(size=37, family=FONT, color="black"))
for lab, yy in (("(a)", 0.956), ("(b)", 0.6105), ("(c)", 0.267)):
    fig.add_annotation(text=lab, xref="paper", yref="paper", x=0.959, y=yy,
                       xanchor="center", yanchor="middle", showarrow=False,
                       font=dict(size=46, family=FONT, color="black"))
fig.add_annotation(text="<b>ELM</b>", xref="paper", yref="paper", x=0.829, y=0.9354,
                   xanchor="center", yanchor="middle", showarrow=False,
                   font=dict(size=45, family=FONT, color="black"))
fig.add_annotation(text="", x=2370.0, y=11.8, xref="x", yref="y", ax=-59, ay=-27,
                   showarrow=True, arrowhead=2, arrowsize=1.3, arrowwidth=2.5, arrowcolor="black")

fig.write_html("out.html", config={"displayModeBar": False},
               post_script="document.body.style.margin='0px';document.body.style.overflow='hidden';")
